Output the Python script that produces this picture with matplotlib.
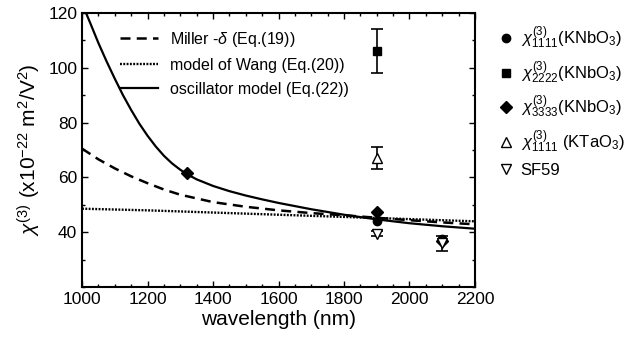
import numpy as np
import matplotlib.pyplot as plt
from matplotlib.lines import Line2D
from matplotlib.ticker import MultipleLocator

plt.rcParams['font.family'] = ['Liberation Sans', 'DejaVu Sans']
plt.rcParams['mathtext.fontset'] = 'custom'
plt.rcParams['mathtext.rm'] = 'Liberation Sans'
plt.rcParams['mathtext.it'] = 'Liberation Sans:italic'

# model curves (wavelength nm, chi3)
miller_x = [1000, 1050, 1100, 1150, 1200, 1250, 1300, 1400, 1500, 1600, 1700, 1800,
            1900, 2000, 2100, 2200]
miller_y = [70.5, 66.6, 63.3, 60.4, 57.9, 55.6, 53.7, 51.0, 49.3, 48.0, 47.0, 46.2,
            45.3, 44.4, 43.6, 42.9]
wang_x = [1000, 1200, 1400, 1600, 1800, 2000, 2200]
wang_y = [48.6, 48.0, 47.2, 46.4, 45.6, 44.8, 44.0]
osc_x = [1012, 1025, 1050, 1075, 1100, 1125, 1150, 1175, 1200, 1225, 1250, 1275,
         1300, 1325, 1350, 1400, 1450, 1500, 1550, 1600, 1700, 1800, 1900, 2000,
         2100, 2200]
osc_y = [120, 116.3, 109.0, 102.3, 96.0, 90.0, 84.6, 79.6, 75.2, 71.3, 67.9, 65.1,
         62.8, 60.9, 59.3, 56.9, 55.0, 53.4, 52.0, 50.7, 48.4, 46.4, 44.7, 43.3,
         42.2, 41.3]

# measured points
k1111_x, k1111_y = [1900, 2100], [44.0, 37.5]
k2222_x, k2222_y, k2222_err = [1900], [106.0], [8.0]
k3333_x, k3333_y = [1320, 1900, 2100], [61.5, 47.5, 37.0]
kta_x, kta_y, kta_err = [1900], [67.0], [4.0]
sf59_x, sf59_y, sf59_err = [1900, 2100], [39.5, 36.0], [1.0, 2.7]

fig = plt.figure(figsize=(6.41, 3.39), dpi=100)
ax = fig.add_axes([0.128, 0.153, 0.613, 0.809])

ax.plot(miller_x, miller_y, 'k--', lw=1.8, dashes=(4, 2.5))
ax.plot(wang_x, wang_y, 'k:', lw=1.7, dashes=(0.8, 0.6))
ax.plot(osc_x, osc_y, 'k-', lw=1.6)

ax.plot(k1111_x, k1111_y, 'ko', ms=6)
ax.errorbar(k2222_x, k2222_y, yerr=k2222_err, fmt='ks', ms=6, capsize=4, elinewidth=1.2, capthick=1.2)
ax.plot(k3333_x, k3333_y, 'kD', ms=6)
ax.errorbar(kta_x, kta_y, yerr=kta_err, fmt='^', mfc='white', mec='k', ms=7, ecolor='k',
            capsize=4, elinewidth=1.2, capthick=1.2)
ax.errorbar(sf59_x, sf59_y, yerr=sf59_err, fmt='v', mfc='white', mec='k', ms=7, ecolor='k',
            capsize=4, elinewidth=1.2, capthick=1.2)

ax.set_xlim(1000, 2200)
ax.set_ylim(20, 120)
ax.set_yticks([40, 60, 80, 100, 120])
ax.xaxis.set_major_locator(MultipleLocator(200))
ax.xaxis.set_minor_locator(MultipleLocator(50))
ax.yaxis.set_minor_locator(MultipleLocator(10))
ax.tick_params(which='both', direction='in', top=True, right=True, labelsize=12.5)
ax.tick_params(which='major', length=4, width=1)
ax.tick_params(which='minor', length=2, width=1)
for s in ax.spines.values():
    s.set_linewidth(1.5)

ax.set_xlabel('wavelength (nm)', fontsize=15, labelpad=2)
ax.set_ylabel(r'$\chi^{(3)}$ (x10$^{-22}$ m$^2$/V$^2$)', fontsize=15, labelpad=4)

line_handles = [
    Line2D([], [], color='k', ls='--', lw=1.8, dashes=(4, 2.5)),
    Line2D([], [], color='k', ls=':', lw=1.7, dashes=(0.8, 0.6)),
    Line2D([], [], color='k', ls='-', lw=1.6),
]
line_labels = [r'Miller -$\delta$ (Eq.(19))', 'model of Wang (Eq.(20))', 'oscillator model (Eq.(22))']
ax.legend(line_handles, line_labels, loc='upper left', bbox_to_anchor=(0.06, 0.99),
          frameon=False, fontsize=11.5, handlelength=2.4, handletextpad=0.7, labelspacing=0.55)

pt_handles = [
    Line2D([], [], marker='o', color='k', ls='none', ms=6),
    Line2D([], [], marker='s', color='k', ls='none', ms=6),
    Line2D([], [], marker='D', color='k', ls='none', ms=6),
    Line2D([], [], marker='^', mfc='white', mec='k', ls='none', ms=7),
    Line2D([], [], marker='v', mfc='white', mec='k', ls='none', ms=7),
]
pt_labels = [
    r'$\chi^{(3)}_{1111}$(KNbO$_3$)',
    r'$\chi^{(3)}_{2222}$(KNbO$_3$)',
    r'$\chi^{(3)}_{3333}$(KNbO$_3$)',
    r'$\chi^{(3)}_{1111}$ (KTaO$_3$)',
    'SF59',
]
fig.legend(pt_handles, pt_labels, loc='upper left', bbox_to_anchor=(0.755, 0.97),
           frameon=False, fontsize=12, handlelength=0.8, handletextpad=0.5, labelspacing=0.5)

fig.savefig('out.png', dpi=100)
